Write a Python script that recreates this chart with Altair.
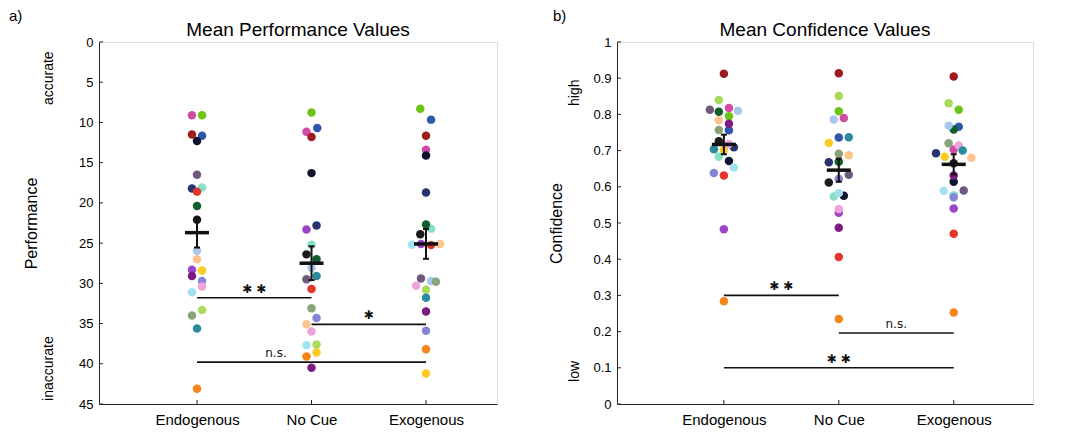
import altair as alt
import pandas as pd

FONT = "Liberation Sans"
AX = "#262626"

conditions = ["Endogenous", "No Cue", "Exogenous"]

subject_colors = [
    "#d04aa6", "#6cc417", "#9e1c1f", "#2e57ab", "#0f1430", "#6f5a7e",
    "#27336f", "#86e0c4", "#e3362a", "#0f5f2d", "#1b1b1b", "#a9c6ec",
    "#ffc48c", "#9c46c6", "#fcca23", "#7d1b7e", "#8585d6", "#eea3da",
    "#a3e1f0", "#a9da5a", "#89a37b", "#2a8c9c", "#f58518",
]
subjects = [f"S{i + 1:02d}" for i in range(len(subject_colors))]

# ---- Performance (per subject, per condition) ----
perf_endo = [9.1, 9.1, 11.5, 11.65, 12.3, 16.5, 18.2, 18.1, 18.6, 20.4, 22.1, 25.95,
             27.0, 28.3, 28.4, 29.1, 29.7, 30.4, 31.1, 33.3, 34.0, 35.6, 43.1]
perf_nocue = [11.15, 8.75, 11.8, 10.7, 16.3, 29.5, 22.8, 25.2, 30.7, 27.0, 26.4, 28.1,
              35.1, 23.3, 38.6, 40.5, 34.3, 36.0, 37.7, 37.6, 33.1, 29.1, 39.1]
perf_exo = [13.4, 8.3, 11.65, 9.65, 14.1, 29.4, 18.7, 23.2, 25.25, 22.7, 23.9, 29.7,
            25.1, 25.1, 41.2, 33.5, 35.9, 30.3, 25.2, 30.8, 29.8, 31.8, 38.2]
perf_endo_jit = [-0.044, 0.044, -0.044, 0.044, 0, 0, -0.044, 0.044, 0, 0, 0, 0,
                 0, -0.044, 0.044, -0.044, 0.044, 0.044, -0.044, 0.044, -0.044, 0, 0]
perf_nocue_jit = [-0.044, 0, 0, 0.05, 0, -0.044, 0.044, 0, 0, 0.044, -0.044, 0,
                  -0.044, -0.044, 0.044, 0, 0.044, 0, -0.044, 0.044, 0, 0.044, -0.044]
perf_exo_jit = [0, -0.05, 0, 0.044, 0, -0.044, 0, 0.044, 0.044, 0, -0.05, 0.044,
                0.122, -0.044, 0, 0, 0, -0.087, -0.122, 0, 0.087, 0, 0]
perf_mean = [23.7, 27.5, 25.1]
perf_sem = [1.85, 2.1, 1.85]

# ---- Confidence (per subject, per condition) ----
conf_endo = [0.818, 0.795, 0.912, 0.756, 0.671, 0.813, 0.709, 0.683, 0.631, 0.807, 0.726, 0.810,
             0.784, 0.483, 0.702, 0.774, 0.638, 0.718, 0.653, 0.840, 0.757, 0.704, 0.284]
conf_nocue = [0.790, 0.809, 0.914, 0.736, 0.575, 0.633, 0.668, 0.573, 0.406, 0.669, 0.612, 0.786,
              0.687, 0.528, 0.721, 0.487, 0.622, 0.539, 0.583, 0.851, 0.691, 0.737, 0.235]
conf_exo = [0.703, 0.813, 0.905, 0.766, 0.614, 0.590, 0.693, 0.577, 0.470, 0.758, 0.665, 0.769,
            0.680, 0.540, 0.683, 0.631, 0.571, 0.714, 0.589, 0.831, 0.720, 0.700, 0.253]
conf_endo_jit = [0.044, 0.044, 0, 0.044, 0.044, -0.122, 0.087, -0.044, 0, -0.044, -0.044, 0.122,
                 -0.044, 0, 0, 0.044, -0.087, 0.044, 0.087, -0.044, -0.044, -0.087, 0]
conf_nocue_jit = [0.044, 0, 0, 0, 0.044, 0.087, -0.087, -0.044, 0, 0, -0.087, -0.044,
                  0.087, 0, -0.087, 0, 0, 0, 0, 0, 0, 0.087, 0]
conf_exo_jit = [0, 0.044, 0, 0.044, 0, 0.087, -0.154, 0, 0, 0, 0, -0.044,
                0.154, 0, -0.078, 0, 0, 0.044, -0.087, -0.044, -0.044, 0.078, 0]
conf_mean = [0.717, 0.646, 0.662]
conf_sem = [0.027, 0.032, 0.028]

# ---- significance annotations ----
perf_sig_from = [1, 2, 1]
perf_sig_to = [2, 3, 3]
perf_sig_y = [31.8, 35.1, 39.8]
perf_sig_text = ["\u2731 \u2731", "\u2731", "n.s."]
perf_sig_text_x = [1.5, 2.5, 1.69]

conf_sig_from = [1, 2, 1]
conf_sig_to = [2, 3, 3]
conf_sig_y = [0.30, 0.196, 0.10]
conf_sig_text = ["\u2731 \u2731", "n.s.", "\u2731 \u2731"]
conf_sig_text_x = [1.5, 2.5, 2.0]

perf_ticks = list(range(0, 50, 5))
conf_ticks = [round(i * 0.1, 1) for i in range(11)]

perf_side = ["accurate", "inaccurate"]
perf_side_y = [4.5, 40.6]
conf_side = ["high", "low"]
conf_side_y = [0.86, 0.09]

label_expr = " : ".join(
    f"datum.value == {i + 1} ? '{c}'" for i, c in enumerate(conditions[:-1])
) + f" : '{conditions[-1]}'"

H = 362


def panel(vals, jits, means, sems, sig_from, sig_to, sig_y, sig_text, sig_text_x,
          ticks, ydomain, reverse, fmt, title, ytitle, side, side_y, letter,
          xdomain, width, letter_x, ytitle_x, side_x):
    rows = []
    for ci, (vs, js) in enumerate(zip(vals, jits)):
        for s, v, j in zip(subjects, vs, js):
            rows.append({"x": ci + 1 + j, "y": v, "subject": s})
    pts = pd.DataFrame(rows)
    stats = pd.DataFrame({
        "x": [1, 2, 3], "m": means,
        "lo": [m - s for m, s in zip(means, sems)],
        "hi": [m + s for m, s in zip(means, sems)],
    })
    sig = pd.DataFrame({"x1": sig_from, "x2": sig_to, "y": sig_y,
                        "t": sig_text, "tx": sig_text_x})
    tdf = pd.DataFrame({"v": ticks})
    xdf = pd.DataFrame({"c": [1, 2, 3]})
    sdf = pd.DataFrame({"t": side, "y": side_y})
    ldf = pd.DataFrame({"t": [letter]})
    ttl = pd.DataFrame({"t": [title]})

    xs = alt.Scale(domain=xdomain, nice=False, zero=False)
    ys = alt.Scale(domain=ydomain, nice=False, zero=False, reverse=reverse)
    xax = alt.Axis(
        values=[1, 2, 3], labelExpr=label_expr, title=None, grid=False, ticks=False,
        domainColor=AX, labelColor="#000", labelFont=FONT, labelFontSize=15,
        labelPadding=8, labelFlush=False, labelOverlap=False)
    yax = alt.Axis(
        values=ticks, format=fmt, title=ytitle, grid=False, ticks=False,
        domainColor=AX, labelColor="#000", labelFont=FONT, labelFontSize=13,
        labelPadding=6, labelOverlap=False,
        titleFont=FONT, titleFontSize=16, titleFontWeight="normal",
        titleColor="#000", titleX=ytitle_x, titleY=H / 2, titleAngle=270,
        titleAlign="center", titleBaseline="middle")

    def X(f):
        return alt.X(f, scale=xs, axis=xax)

    def Y(f):
        return alt.Y(f, scale=ys, axis=yax)

    points = alt.Chart(pts).mark_circle(size=72, opacity=1).encode(
        x=X("x:Q"), y=Y("y:Q"),
        color=alt.Color("subject:N", scale=alt.Scale(domain=subjects, range=subject_colors),
                        legend=None))
    err = alt.Chart(stats).mark_rule(color="#111", strokeWidth=2).encode(
        x=X("x:Q"), y=Y("lo:Q"), y2="hi:Q")
    cap_lo = alt.Chart(stats).mark_rule(color="#111", strokeWidth=2, xOffset=-3, x2Offset=3).encode(
        x=X("x:Q"), x2="x:Q", y=Y("lo:Q"))
    cap_hi = alt.Chart(stats).mark_rule(color="#111", strokeWidth=2, xOffset=-3, x2Offset=3).encode(
        x=X("x:Q"), x2="x:Q", y=Y("hi:Q"))
    mbar = alt.Chart(stats).mark_rule(color="#111", strokeWidth=3.5, xOffset=-12, x2Offset=12).encode(
        x=X("x:Q"), x2="x:Q", y=Y("m:Q"))
    sig_line = alt.Chart(sig).mark_rule(color="#111", strokeWidth=1.6).encode(
        x=X("x1:Q"), x2="x2:Q", y=Y("y:Q"))
    sig_lbl = alt.Chart(sig).mark_text(font="DejaVu Sans", fontSize=12, baseline="alphabetic",
                                       dy=-5, color="#111").encode(
        x=X("tx:Q"), y=Y("y:Q"), text="t:N")
    yticks = alt.Chart(tdf).mark_rule(color=AX, strokeWidth=1).encode(
        x=alt.value(0), x2=alt.value(4), y=Y("v:Q"))
    xticks = alt.Chart(xdf).mark_rule(color=AX, strokeWidth=1).encode(
        x=X("c:Q"), y=alt.value(H), y2=alt.value(H - 4))
    side_lbl = alt.Chart(sdf).mark_text(font=FONT, fontSize=14, angle=270, align="center",
                                        baseline="middle", color="#000").encode(
        x=alt.value(side_x), y=Y("y:Q"), text="t:N")
    letter_lbl = alt.Chart(ldf).mark_text(font=FONT, fontSize=15, align="left",
                                          baseline="top", color="#000").encode(
        x=alt.value(letter_x), y=alt.value(-33), text="t:N")
    title_lbl = alt.Chart(ttl).mark_text(font=FONT, fontSize=19, align="center",
                                         baseline="middle", color="#000").encode(
        x=alt.value(width / 2), y=alt.value(-12), text="t:N")

    return alt.layer(points, sig_line, sig_lbl, err, cap_lo, cap_hi, mbar,
                     yticks, xticks, side_lbl, letter_lbl, title_lbl).properties(
        width=width, height=H)


left = panel([perf_endo, perf_nocue, perf_exo],
             [perf_endo_jit, perf_nocue_jit, perf_exo_jit],
             perf_mean, perf_sem, perf_sig_from, perf_sig_to, perf_sig_y,
             perf_sig_text, perf_sig_text_x, perf_ticks, [0, 45], True, "d",
             "Mean Performance Values", "Performance", perf_side, perf_side_y, "a)",
             [0.144, 3.62], 398, -90, -68, -50)

right = panel([conf_endo, conf_nocue, conf_exo],
              [conf_endo_jit, conf_nocue_jit, conf_exo_jit],
              conf_mean, conf_sem, conf_sig_from, conf_sig_to, conf_sig_y,
              conf_sig_text, conf_sig_text_x, conf_ticks, [0, 1], False, ".1~f",
              "Mean Confidence Values", "Confidence", conf_side, conf_side_y, "b)",
              [0.07, 3.69], 416, -64, -61, -42)

chart = alt.hconcat(left, right, spacing=49).properties(padding=0).configure_view(
    stroke=None).configure(background="white")

chart.save("out.html", embed_options={"renderer": "svg", "actions": False})
